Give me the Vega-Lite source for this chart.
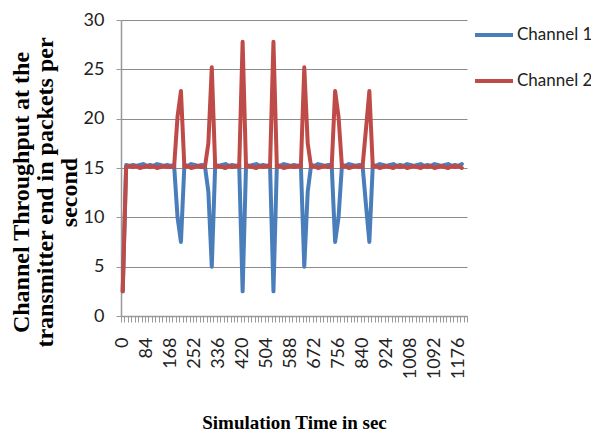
{
  "$schema": "https://vega.github.io/schema/vega-lite/v6.json",
  "width": 346,
  "height": 296,
  "autosize": {"type": "none"},
  "padding": {"left": 121, "top": 20, "right": 124, "bottom": 119},
  "background": "white",
  "config": {"view": {"stroke": null}},
  "data": {"values": [
    {"t": 0, "Channel 1": 2.5, "Channel 2": 2.5},
    {"t": 12, "Channel 1": 15.3, "Channel 2": 15.1},
    {"t": 24, "Channel 1": 15.2, "Channel 2": 15.2},
    {"t": 36, "Channel 1": 15.3, "Channel 2": 15.1},
    {"t": 48, "Channel 1": 15.2, "Channel 2": 15.2},
    {"t": 60, "Channel 1": 15.3, "Channel 2": 15.0},
    {"t": 72, "Channel 1": 15.4, "Channel 2": 15.1},
    {"t": 84, "Channel 1": 15.2, "Channel 2": 15.2},
    {"t": 96, "Channel 1": 15.3, "Channel 2": 15.1},
    {"t": 108, "Channel 1": 15.2, "Channel 2": 15.2},
    {"t": 120, "Channel 1": 15.4, "Channel 2": 15.0},
    {"t": 132, "Channel 1": 15.3, "Channel 2": 15.1},
    {"t": 144, "Channel 1": 15.2, "Channel 2": 15.2},
    {"t": 156, "Channel 1": 15.3, "Channel 2": 15.1},
    {"t": 168, "Channel 1": 15.2, "Channel 2": 15.1},
    {"t": 180, "Channel 1": 15.3, "Channel 2": 15.1},
    {"t": 192, "Channel 1": 10.0, "Channel 2": 20.2},
    {"t": 204, "Channel 1": 7.5, "Channel 2": 22.8},
    {"t": 216, "Channel 1": 15.3, "Channel 2": 15.1},
    {"t": 228, "Channel 1": 15.2, "Channel 2": 15.2},
    {"t": 240, "Channel 1": 15.4, "Channel 2": 15.0},
    {"t": 252, "Channel 1": 15.3, "Channel 2": 15.1},
    {"t": 264, "Channel 1": 15.2, "Channel 2": 15.2},
    {"t": 276, "Channel 1": 15.3, "Channel 2": 15.1},
    {"t": 288, "Channel 1": 15.2, "Channel 2": 15.1},
    {"t": 300, "Channel 1": 12.6, "Channel 2": 17.5},
    {"t": 312, "Channel 1": 5.0, "Channel 2": 25.2},
    {"t": 324, "Channel 1": 15.3, "Channel 2": 15.1},
    {"t": 336, "Channel 1": 15.2, "Channel 2": 15.2},
    {"t": 348, "Channel 1": 15.3, "Channel 2": 15.1},
    {"t": 360, "Channel 1": 15.4, "Channel 2": 15.0},
    {"t": 372, "Channel 1": 15.2, "Channel 2": 15.2},
    {"t": 384, "Channel 1": 15.3, "Channel 2": 15.1},
    {"t": 396, "Channel 1": 15.2, "Channel 2": 15.2},
    {"t": 408, "Channel 1": 15.3, "Channel 2": 15.1},
    {"t": 420, "Channel 1": 2.5, "Channel 2": 27.8},
    {"t": 432, "Channel 1": 15.3, "Channel 2": 15.1},
    {"t": 444, "Channel 1": 15.2, "Channel 2": 15.2},
    {"t": 456, "Channel 1": 15.3, "Channel 2": 15.1},
    {"t": 468, "Channel 1": 15.4, "Channel 2": 15.0},
    {"t": 480, "Channel 1": 15.2, "Channel 2": 15.2},
    {"t": 492, "Channel 1": 15.3, "Channel 2": 15.1},
    {"t": 504, "Channel 1": 15.2, "Channel 2": 15.2},
    {"t": 516, "Channel 1": 15.3, "Channel 2": 15.1},
    {"t": 528, "Channel 1": 2.5, "Channel 2": 27.8},
    {"t": 540, "Channel 1": 15.3, "Channel 2": 15.1},
    {"t": 552, "Channel 1": 15.2, "Channel 2": 15.2},
    {"t": 564, "Channel 1": 15.4, "Channel 2": 15.0},
    {"t": 576, "Channel 1": 15.3, "Channel 2": 15.1},
    {"t": 588, "Channel 1": 15.2, "Channel 2": 15.2},
    {"t": 600, "Channel 1": 15.3, "Channel 2": 15.1},
    {"t": 612, "Channel 1": 15.2, "Channel 2": 15.2},
    {"t": 624, "Channel 1": 15.3, "Channel 2": 15.1},
    {"t": 636, "Channel 1": 5.0, "Channel 2": 25.2},
    {"t": 648, "Channel 1": 12.6, "Channel 2": 17.5},
    {"t": 660, "Channel 1": 15.3, "Channel 2": 15.1},
    {"t": 672, "Channel 1": 15.2, "Channel 2": 15.2},
    {"t": 684, "Channel 1": 15.4, "Channel 2": 15.0},
    {"t": 696, "Channel 1": 15.3, "Channel 2": 15.1},
    {"t": 708, "Channel 1": 15.2, "Channel 2": 15.2},
    {"t": 720, "Channel 1": 15.3, "Channel 2": 15.1},
    {"t": 732, "Channel 1": 15.3, "Channel 2": 15.1},
    {"t": 744, "Channel 1": 7.5, "Channel 2": 22.8},
    {"t": 756, "Channel 1": 10.0, "Channel 2": 20.2},
    {"t": 768, "Channel 1": 15.3, "Channel 2": 15.1},
    {"t": 780, "Channel 1": 15.2, "Channel 2": 15.2},
    {"t": 792, "Channel 1": 15.4, "Channel 2": 15.0},
    {"t": 804, "Channel 1": 15.3, "Channel 2": 15.1},
    {"t": 816, "Channel 1": 15.2, "Channel 2": 15.2},
    {"t": 828, "Channel 1": 15.3, "Channel 2": 15.1},
    {"t": 840, "Channel 1": 15.3, "Channel 2": 15.1},
    {"t": 852, "Channel 1": 11.3, "Channel 2": 18.9},
    {"t": 864, "Channel 1": 7.5, "Channel 2": 22.8},
    {"t": 876, "Channel 1": 15.3, "Channel 2": 15.1},
    {"t": 888, "Channel 1": 15.2, "Channel 2": 15.2},
    {"t": 900, "Channel 1": 15.4, "Channel 2": 15.0},
    {"t": 912, "Channel 1": 15.3, "Channel 2": 15.1},
    {"t": 924, "Channel 1": 15.2, "Channel 2": 15.2},
    {"t": 936, "Channel 1": 15.3, "Channel 2": 15.1},
    {"t": 948, "Channel 1": 15.4, "Channel 2": 15.0},
    {"t": 960, "Channel 1": 15.2, "Channel 2": 15.2},
    {"t": 972, "Channel 1": 15.3, "Channel 2": 15.1},
    {"t": 984, "Channel 1": 15.2, "Channel 2": 15.2},
    {"t": 996, "Channel 1": 15.4, "Channel 2": 15.0},
    {"t": 1008, "Channel 1": 15.3, "Channel 2": 15.1},
    {"t": 1020, "Channel 1": 15.2, "Channel 2": 15.2},
    {"t": 1032, "Channel 1": 15.3, "Channel 2": 15.1},
    {"t": 1044, "Channel 1": 15.4, "Channel 2": 15.0},
    {"t": 1056, "Channel 1": 15.2, "Channel 2": 15.2},
    {"t": 1068, "Channel 1": 15.3, "Channel 2": 15.1},
    {"t": 1080, "Channel 1": 15.2, "Channel 2": 15.2},
    {"t": 1092, "Channel 1": 15.4, "Channel 2": 15.0},
    {"t": 1104, "Channel 1": 15.3, "Channel 2": 15.1},
    {"t": 1116, "Channel 1": 15.2, "Channel 2": 15.2},
    {"t": 1128, "Channel 1": 15.3, "Channel 2": 15.1},
    {"t": 1140, "Channel 1": 15.4, "Channel 2": 15.0},
    {"t": 1152, "Channel 1": 15.2, "Channel 2": 15.2},
    {"t": 1164, "Channel 1": 15.3, "Channel 2": 15.1},
    {"t": 1176, "Channel 1": 15.2, "Channel 2": 15.2},
    {"t": 1188, "Channel 1": 15.4, "Channel 2": 15.0},
    {"t": 1200, "Channel 1": null, "Channel 2": null}
  ]},
  "transform": [{"fold": ["Channel 1", "Channel 2"], "as": ["series", "value"]}],
  "mark": {"type": "line", "strokeWidth": 4, "strokeJoin": "round", "strokeCap": "round", "invalid": "break-paths-show-domains"},
  "encoding": {
    "x": {
      "field": "t", "type": "ordinal", "sort": null,
      "bandPosition": 0.5,
      "scale": {"type": "band", "paddingInner": 0, "paddingOuter": 0},
      "axis": {
        "title": "Simulation Time in sec",
        "titleFont": "Liberation Serif", "titleFontWeight": "bold", "titleFontSize": 19, "titleColor": "#000",
        "titleX": 173, "titleY": 106, "titleBaseline": "middle", "titleAlign": "center",
        "labelExpr": "datum.value % 84 === 0 ? datum.label : ''",
        "labelAngle": -90, "labelFont": "Lato", "labelFontSize": 18, "labelColor": "#222",
        "labelOverlap": false, "labelPadding": 15,
        "tickBand": "extent", "tickSize": 6, "tickColor": "#999999", "tickWidth": 1,
        "domainColor": "#999999", "domainWidth": 1.5, "grid": false
      }
    },
    "y": {
      "field": "value", "type": "quantitative",
      "scale": {"domain": [0, 30], "nice": false},
      "axis": {
        "title": ["Channel Throughput at the", "transmitter end in packets per", "second"],
        "titleFont": "Liberation Serif", "titleFontWeight": "bold", "titleFontSize": 24, "titleLineHeight": 24, "titleColor": "#000",
        "titleAngle": -90, "titleX": -100, "titleY": 172, "titleBaseline": "middle", "titleAlign": "center",
        "values": [0, 5, 10, 15, 20, 25, 30],
        "labelFont": "Lato", "labelFontSize": 18, "labelColor": "#222", "labelPadding": 12,
        "tickSize": 5, "tickColor": "#999999", "domainColor": "#999999", "domainWidth": 1.5,
        "grid": true, "gridColor": "#8c8c8c", "gridWidth": 1.2
      }
    },
    "color": {
      "field": "series", "type": "nominal",
      "scale": {"domain": ["Channel 1", "Channel 2"], "range": ["#4A7EBB", "#BE4B48"]},
      "legend": {
        "title": null, "orient": "none", "legendX": 352, "legendY": -6,
        "symbolType": "stroke", "symbolSize": 1444, "symbolStrokeWidth": 4,
        "labelFont": "Lato", "labelFontSize": 17, "labelColor": "#222", "labelOffset": 2,
        "rowPadding": 17, "padding": 0
      }
    }
  }
}
